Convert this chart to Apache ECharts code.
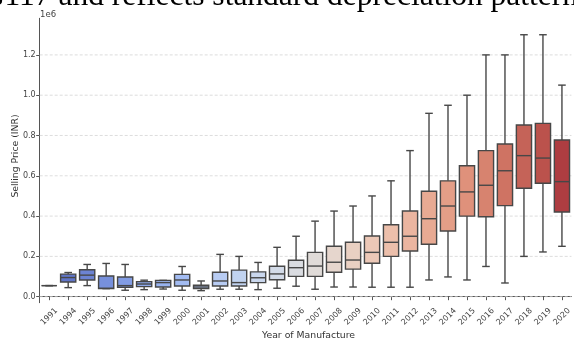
<!DOCTYPE html>
<html><head><meta charset="utf-8">
<script src="https://cdn.jsdelivr.net/npm/echarts@6/dist/echarts.min.js"></script>
<style>html,body{margin:0;padding:0;background:#fff;}#c{width:574px;height:338px;}</style>
</head><body><div id="c"></div>
<script>
const years = ['1991','1994','1995','1996','1997','1998','1999','2000','2001','2002','2003','2004','2005','2006','2007','2008','2009','2010','2011','2012','2013','2014','2015','2016','2017','2018','2019','2020'];
const whiskerLow  = [55000, 45000, 55000, 40000, 32000, 35000, 38000, 32000, 30000, 37000, 37000, 35000, 42000, 52000, 37000, 48000, 48000, 47000, 47000, 47000, 83000, 98000, 83000, 150000, 68000, 200000, 222000, 250000];
const q1          = [55000, 73000, 83000, 40000, 47000, 50000, 48000, 53000, 40000, 53000, 53000, 70000, 84000, 101000, 101000, 121000, 137000, 166000, 200000, 227000, 260000, 326000, 400000, 397000, 452000, 538000, 563000, 420000];
const median      = [55000, 95000, 107000, 42000, 55000, 63000, 70000, 83000, 48000, 78000, 70000, 94000, 113000, 144000, 152000, 171000, 182000, 220000, 270000, 300000, 387000, 450000, 520000, 553000, 625000, 700000, 688000, 571000];
const q3          = [55000, 112000, 134000, 103000, 98000, 75000, 81000, 111000, 57000, 121000, 132000, 123000, 151000, 181000, 220000, 250000, 270000, 301000, 357000, 425000, 523000, 575000, 650000, 725000, 758000, 852000, 860000, 778000];
const whiskerHigh = [55000, 120000, 160000, 165000, 160000, 82000, 81000, 150000, 78000, 210000, 200000, 170000, 245000, 300000, 375000, 425000, 450000, 500000, 575000, 725000, 910000, 950000, 1000000, 1200000, 1200000, 1300000, 1300000, 1050000];
const yTicks = [0, 200000, 400000, 600000, 800000, 1000000, 1200000];

// coolwarm colormap (Moreland), used for box fill colours
const CW = [[59,76,192],[68,90,204],[77,104,215],[87,117,225],[98,130,234],[108,142,241],[119,154,247],[130,165,251],[141,176,254],[152,185,255],[163,194,255],[174,201,253],[184,208,249],[194,213,244],[204,217,238],[213,219,230],[221,221,221],[229,216,209],[236,211,197],[241,204,185],[245,196,173],[247,187,160],[247,177,148],[247,166,135],[244,154,123],[241,141,111],[236,127,99],[229,112,88],[222,96,77],[213,80,66],[203,62,56],[192,40,47],[180,4,38]];
function coolwarm(t){
  const p = t*(CW.length-1); const i = Math.min(Math.floor(p), CW.length-2); const f = p-i;
  return CW[i].map((v,k)=>(v+(CW[i+1][k]-v)*f)/255);
}
function desaturate(c, prop){
  const [r,g,b] = c; const mx = Math.max(r,g,b), mn = Math.min(r,g,b);
  const l = (mx+mn)/2; let h = 0, s = 0;
  if (mx !== mn) {
    const d = mx-mn; s = l > 0.5 ? d/(2-mx-mn) : d/(mx+mn);
    if (mx === r) h = ((g-b)/d + (g<b?6:0))/6; else if (mx === g) h = ((b-r)/d+2)/6; else h = ((r-g)/d+4)/6;
  }
  s *= prop;
  function hue(p,q,t){ if(t<0)t+=1; if(t>1)t-=1; if(t<1/6)return p+(q-p)*6*t; if(t<1/2)return q; if(t<2/3)return p+(q-p)*(2/3-t)*6; return p; }
  if (s === 0) return [l,l,l];
  const q = l < 0.5 ? l*(1+s) : l+s-l*s; const p = 2*l-q;
  return [hue(p,q,h+1/3), hue(p,q,h), hue(p,q,h-1/3)];
}
const n = years.length;
const colors = years.map((_, i) => {
  const c = desaturate(coolwarm((i+1)/(n+1)), 0.75);
  return 'rgb(' + c.map(v => Math.round(v*255)).join(',') + ')';
});
const EDGE = '#474747';

const boxData = years.map((_, i) => [i, whiskerLow[i], q1[i], median[i], q3[i], whiskerHigh[i]]);
const gridData = yTicks.map(v => [0, v]);

const chart = echarts.init(document.getElementById('c'), null, {renderer:'canvas'});
chart.setOption({
  animation: false,
  backgroundColor: '#fff',
  grid: {left: 39.7, top: 18.3, width: 536.8, height: 284.4, containLabel: false},
  xAxis: {
    type: 'category', data: years, boundaryGap: true,
    axisLine: {show: true, lineStyle: {color: '#555', width: 1}},
    axisTick: {show: true, alignWithLabel: true, length: 3.5, lineStyle: {color: '#555'}},
    axisLabel: {rotate: 45, fontSize: 8, color: '#444', margin: 14, interval: 0, fontFamily: 'DejaVu Sans',
      align: 'center', verticalAlign: 'middle'},
    splitLine: {show: false}
  },
  yAxis: {
    type: 'value', min: -29800, max: 1381600,
    axisLine: {show: true, lineStyle: {color: '#555', width: 1}},
    axisTick: {show: true, length: 3.5, customValues: yTicks, lineStyle: {color: '#555'}},
    axisLabel: {customValues: yTicks, fontSize: 8, color: '#444', margin: 4, fontFamily: 'DejaVu Sans',
      formatter: v => (yTicks.indexOf(v) >= 0 ? (v/1e6).toFixed(1) : '')},
    splitLine: {show: false}
  },
  graphic: [
    {type: 'text', x: 40, y: 15, style: {text: '1e6', font: '8.5px "DejaVu Sans"', fill: '#444', verticalAlign: 'middle', align: 'left'}},
    {type: 'text', x: 15.7, y: 156, rotation: Math.PI/2, style: {text: 'Selling Price (INR)', font: '9.3px "DejaVu Sans"', fill: '#333', align: 'center', verticalAlign: 'middle'}},
    {type: 'text', x: 308.5, y: 336, style: {text: 'Year of Manufacture', font: '9.3px "DejaVu Sans"', fill: '#333', align: 'center', verticalAlign: 'middle'}},
    {type: 'text', x: 3.3, y: -3.5, style: {text: 's', font: '31.5px "Liberation Serif"', fill: '#000', align: 'right', verticalAlign: 'middle'}},
    {type: 'text', x: 4.5, y: -3.5, style: {text: '117 and reflects standard depreciation pattern', font: '31.5px "Liberation Serif"', fill: '#000', align: 'left', verticalAlign: 'middle'}}
  ],
  series: [
    {
      type: 'custom', z: 1, silent: true,
      data: gridData,
      encode: {x: 0, y: 1},
      renderItem: function (params, api) {
        const cs = params.coordSys;
        const y = api.coord([0, api.value(1)])[1];
        return {type: 'line', shape: {x1: cs.x, y1: y, x2: cs.x + cs.width, y2: y},
          style: {stroke: '#d4d4d4', lineWidth: 0.8, lineDash: [3, 2]}};
      }
    },
    {
      type: 'custom', z: 3,
      data: boxData,
      encode: {x: 0, y: [1, 2, 3, 4, 5]},
      renderItem: function (params, api) {
        const i = api.value(0);
        const x = api.coord([i, 0])[0];
        const band = api.size([1, 0])[0];
        const w = band * 0.8, cw = w * 0.5;
        const yL = api.coord([i, api.value(1)])[1];
        const yQ1 = api.coord([i, api.value(2)])[1];
        const yM = api.coord([i, api.value(3)])[1];
        const yQ3 = api.coord([i, api.value(4)])[1];
        const yH = api.coord([i, api.value(5)])[1];
        const ls = {stroke: EDGE, lineWidth: 1.4};
        return {type: 'group', children: [
          {type: 'line', shape: {x1: x, y1: yL, x2: x, y2: yQ1}, style: ls},
          {type: 'line', shape: {x1: x, y1: yQ3, x2: x, y2: yH}, style: ls},
          {type: 'line', shape: {x1: x - cw/2, y1: yL, x2: x + cw/2, y2: yL}, style: ls},
          {type: 'line', shape: {x1: x - cw/2, y1: yH, x2: x + cw/2, y2: yH}, style: ls},
          {type: 'rect', shape: {x: x - w/2, y: yQ3, width: w, height: yQ1 - yQ3}, style: {fill: colors[i], stroke: EDGE, lineWidth: 1.4}},
          {type: 'line', shape: {x1: x - w/2, y1: yM, x2: x + w/2, y2: yM}, style: ls}
        ]};
      }
    }
  ]
});
</script></body></html>
